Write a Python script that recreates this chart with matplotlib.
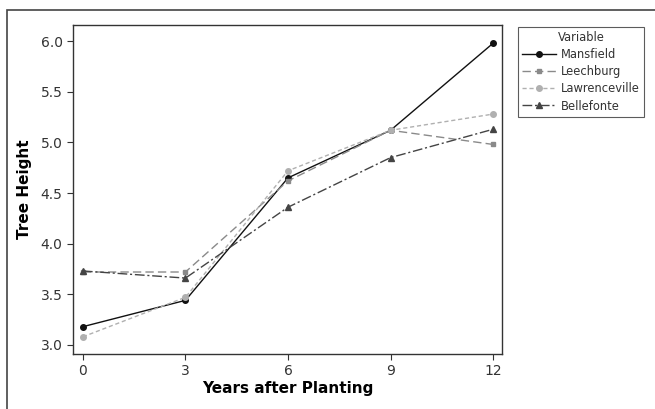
import matplotlib
matplotlib.use("Agg")
import matplotlib.pyplot as plt
from matplotlib.patches import Rectangle

years = [0, 3, 6, 9, 12]
mansfield = [3.18, 3.44, 4.65, 5.12, 5.98]
leechburg = [3.72, 3.72, 4.62, 5.12, 4.98]
lawrenceville = [3.08, 3.47, 4.72, 5.12, 5.28]
bellefonte = [3.73, 3.66, 4.36, 4.85, 5.13]

plt.rcParams["font.family"] = "DejaVu Sans"

fig = plt.figure(figsize=(6.55, 4.09), dpi=100)
ax = fig.add_axes([73 / 655, 1 - 354 / 409, 429 / 655, 329 / 409])

# outer frame of the figure
fig.patches.append(Rectangle((7 / 655, -0.05), 1.0, 1 - 10 / 409 + 0.05,
                             transform=fig.transFigure, fill=False,
                             edgecolor="#444444", linewidth=1.2))

ax.plot(years, mansfield, color="#111111", lw=1.0, marker="o", ms=4,
        ls="-", label="Mansfield")
ax.plot(years, leechburg, color="#8a8a8a", lw=1.0, marker="s", ms=3.5,
        ls=(0, (6, 3)), label="Leechburg")
ax.plot(years, lawrenceville, color="#b0b0b0", lw=1.0, marker="o", ms=4,
        ls=(0, (3, 2)), label="Lawrenceville")
ax.plot(years, bellefonte, color="#444444", lw=1.0, marker="^", ms=4,
        ls=(0, (7, 2, 1.5, 2)), label="Bellefonte")

ax.set_xlim(-0.29, 12.26)
ax.set_ylim(2.91, 6.16)
ax.set_xticks(years)
ax.set_yticks([3.0, 3.5, 4.0, 4.5, 5.0, 5.5, 6.0])
ax.set_yticklabels(["3.0", "3.5", "4.0", "4.5", "5.0", "5.5", "6.0"])
ax.tick_params(labelsize=10, colors="#333333", length=4, width=0.8)
for s in ax.spines.values():
    s.set_color("#333333")
    s.set_linewidth(1.0)

ax.set_xlabel("Years after Planting", fontsize=11, fontweight="bold", labelpad=2)
ax.set_ylabel("Tree Height", fontsize=11, fontweight="bold", labelpad=6)

leg = fig.legend(loc="upper left", bbox_to_anchor=(512 / 655, 1 - 21 / 409),
                 title="Variable", fontsize=8.3, title_fontsize=8.3,
                 frameon=True, fancybox=False, handlelength=2.9,
                 borderpad=0.4, labelspacing=0.35, handletextpad=0.45)
leg.get_frame().set_edgecolor("#333333")
leg.get_frame().set_linewidth(0.8)
for t in leg.get_texts():
    t.set_color("#333333")
leg.get_title().set_color("#333333")

fig.savefig("out.png", dpi=100)
